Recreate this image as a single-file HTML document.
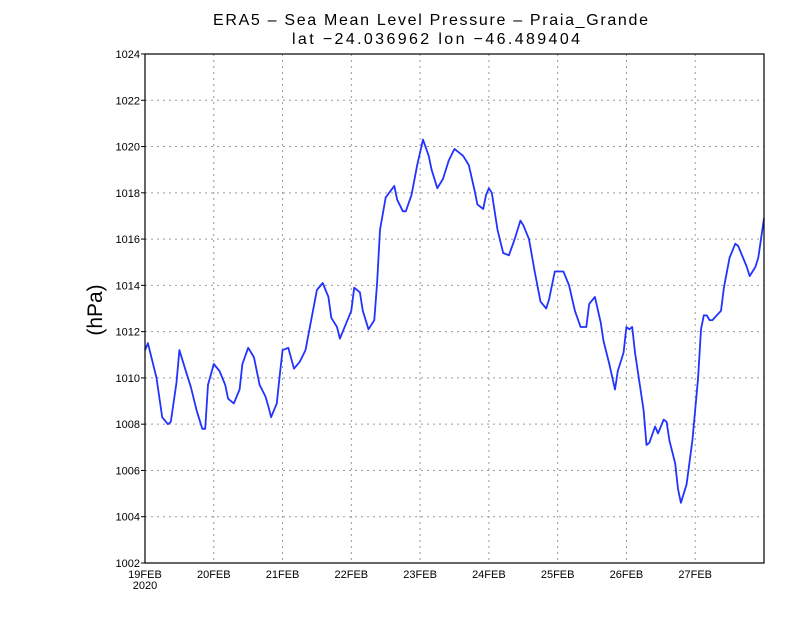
<!DOCTYPE html>
<html><head><meta charset="utf-8"><style>body{margin:0;background:#fff}svg{display:block}</style></head>
<body>
<svg id="chart" width="800" height="618" xmlns="http://www.w3.org/2000/svg" font-family="Liberation Sans, sans-serif">
<rect width="800" height="618" fill="#fff"/>
<text x="213" y="25" font-size="16" textLength="435" lengthAdjust="spacing">ERA5 – Sea Mean Level Pressure – Praia_Grande</text>
<text x="292" y="44" font-size="16" textLength="288" lengthAdjust="spacing">lat −24.036962 lon −46.489404</text>
<text transform="translate(102,310) rotate(-90)" font-size="21" text-anchor="middle">(hPa)</text>
<g id="grid"></g><g id="axes"></g>
<path id="line" fill="none" stroke="#2233ff" stroke-width="1.8" stroke-linejoin="round"/>
<rect x="145" y="54" width="619" height="509" fill="none" stroke="#000" stroke-width="1.2"/>
</svg>
<script>
const hours=[0,1,4,6,8,9,11,12,14,16,18,20,21,22,24,26,28,29,31,33,34,36,38,40,42,43,44,46,47,48,50,52,54,56,58,60,62,64,65,67,68,70,72,73,75,76,78,80,81,82,84,87,88,90,91,93,95,97,99,100,102,104,106,108,111,113,115,116,118,119,120,121,123,125,127,129,131,132,134,136,138,140,141,143,146,148,150,152,154,155,157,159,160,162,164,165,167,168,169,170,171,174,175,176,178,179,181,182,183,185,186,187,189,191,193,194,195,196,197,198,201,202,204,206,207,210,211,213,214,216];
const values=[1011.2,1011.5,1010.0,1008.3,1008.0,1008.1,1009.8,1011.2,1010.4,1009.6,1008.6,1007.8,1007.8,1009.7,1010.6,1010.3,1009.7,1009.1,1008.9,1009.5,1010.6,1011.3,1010.9,1009.7,1009.2,1008.8,1008.3,1008.9,1010.1,1011.2,1011.3,1010.4,1010.7,1011.2,1012.5,1013.8,1014.1,1013.5,1012.6,1012.2,1011.7,1012.3,1012.9,1013.9,1013.7,1012.9,1012.1,1012.5,1014.1,1016.4,1017.8,1018.3,1017.7,1017.2,1017.2,1017.9,1019.2,1020.3,1019.6,1019.0,1018.2,1018.6,1019.4,1019.9,1019.6,1019.2,1018.1,1017.5,1017.3,1017.9,1018.2,1018.0,1016.4,1015.4,1015.3,1016.0,1016.8,1016.6,1016.0,1014.6,1013.3,1013.0,1013.4,1014.6,1014.6,1014.0,1012.9,1012.2,1012.2,1013.2,1013.5,1012.4,1011.6,1010.6,1009.5,1010.3,1011.1,1012.2,1012.1,1012.2,1011.1,1008.6,1007.1,1007.2,1007.9,1007.6,1008.2,1008.1,1007.3,1006.3,1005.2,1004.6,1005.4,1007.3,1010.0,1012.1,1012.7,1012.7,1012.5,1012.5,1012.9,1013.9,1015.2,1015.8,1015.7,1014.8,1014.4,1014.8,1015.2,1016.9];
const yTicks=[1002,1004,1006,1008,1010,1012,1014,1016,1018,1020,1022,1024];
const xTickLabels=["19FEB","20FEB","21FEB","22FEB","23FEB","24FEB","25FEB","26FEB","27FEB"];
const X0=145,X1=764,Y0=563,Y1=54,HMAX=216,VMIN=1002,VMAX=1024;
const xs=h=>X0+(X1-X0)*h/HMAX;
const ys=v=>Y0-(Y0-Y1)*(v-VMIN)/(VMAX-VMIN);
const NS="http://www.w3.org/2000/svg";
const grid=document.getElementById('grid'),axes=document.getElementById('axes');
function mk(tag,attrs,parent,txt){const e=document.createElementNS(NS,tag);for(const k in attrs)e.setAttribute(k,attrs[k]);if(txt!==undefined)e.textContent=txt;parent.appendChild(e);return e;}
yTicks.forEach(v=>{const y=ys(v);
 if(v>VMIN&&v<VMAX){const g=mk('line',{x1:X0,x2:X1,y1:y,y2:y,stroke:'#999','stroke-dasharray':'2,4'},grid);
 
 }
 const t=mk('line',{x1:X0-4,x2:X0,y1:y,y2:y,stroke:'#000'},axes);
 
 
 const l=mk('text',{x:X0-5,y:y+4,'font-size':11,'text-anchor':'end'},axes,String(v));
 
 
});
xTickLabels.forEach((s,i)=>{const x=xs(i*24);
 if(i>0){const g=mk('line',{x1:x,x2:x,y1:Y1,y2:Y0,stroke:'#999','stroke-dasharray':'2,4'},grid);
 
 }
 const l=mk('text',{x:x,y:578,'font-size':11,'text-anchor':'middle'},axes,s);
 
 
});
const yr=mk('text',{x:145,y:589,'font-size':11,'text-anchor':'middle'},axes,'2020');


document.getElementById('line').setAttribute('d',hours.map((h,i)=>(i?'L':'M')+xs(h).toFixed(1)+','+ys(values[i]).toFixed(1)).join(''));
</script>
</body></html>
